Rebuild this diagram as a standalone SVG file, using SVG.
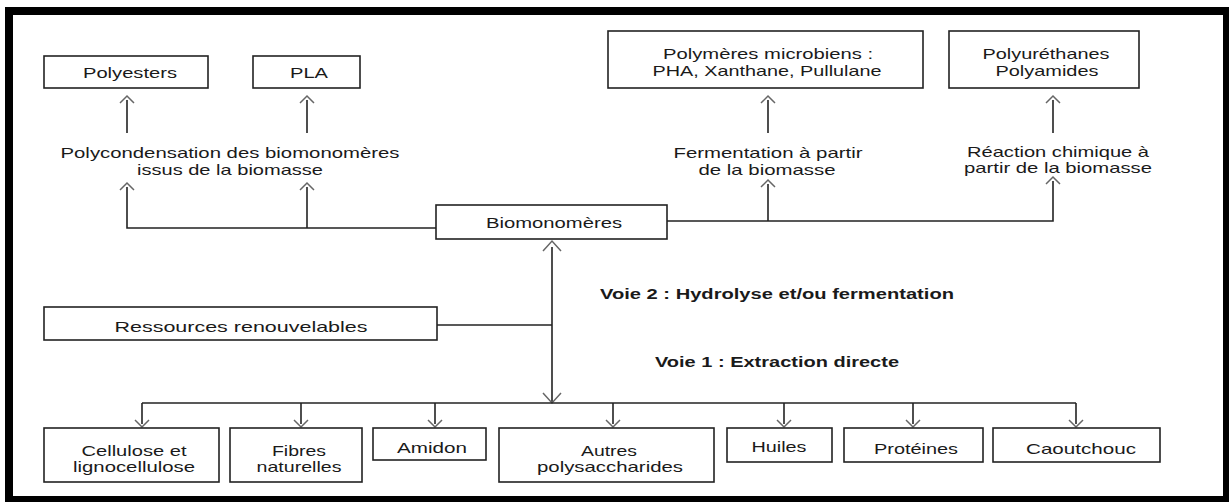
<svg xmlns="http://www.w3.org/2000/svg" width="1229" height="502" viewBox="0 0 1229 502">
<style>
.box{fill:#fff;stroke:#222;stroke-width:1.6}
.t{font-family:"Liberation Sans",Arial,Helvetica,sans-serif;font-size:14.5px;fill:#1a1a1a;text-anchor:middle}
.b{font-family:"Liberation Sans",Arial,Helvetica,sans-serif;font-size:14.5px;font-weight:bold;fill:#1a1a1a}
.ln{fill:none;stroke:#222;stroke-width:1.6}
.ah{fill:none;stroke:#666;stroke-width:1.5}
</style>
<rect x="0" y="0" width="1229" height="502" fill="#fff"/>
<rect x="9" y="11" width="1218" height="489" fill="none" stroke="#000" stroke-width="8"/>

<g id="connectors">
  <polyline class="ln" points="436,228 127,228 127,187"/>
  <line class="ln" x1="307" y1="228" x2="307" y2="187"/>
  <polyline class="ah" points="120,190 127,183 134,190"/>
  <polyline class="ah" points="300,190 307,183 314,190"/>
  <line class="ln" x1="127" y1="133" x2="127" y2="100"/>
  <line class="ln" x1="307" y1="133" x2="307" y2="100"/>
  <polyline class="ah" points="120,103 127,96 134,103"/>
  <polyline class="ah" points="300,103 307,96 314,103"/>
  <polyline class="ln" points="667,221 1053,221 1053,181"/>
  <line class="ln" x1="768" y1="221" x2="768" y2="184"/>
  <polyline class="ah" points="761,187 768,180 775,187"/>
  <polyline class="ah" points="1046,184 1053,177 1060,184"/>
  <line class="ln" x1="768" y1="133" x2="768" y2="100"/>
  <line class="ln" x1="1053" y1="133" x2="1053" y2="100"/>
  <polyline class="ah" points="761,103 768,96 775,103"/>
  <polyline class="ah" points="1046,103 1053,96 1060,103"/>
  <line class="ln" x1="437" y1="325" x2="552" y2="325"/>
  <line class="ln" x1="552" y1="247" x2="552" y2="403"/>
  <polyline class="ah" points="543,251 552,241 561,251"/>
  <polyline class="ah" points="543,393 552,403 561,393"/>
  <line class="ln" x1="142" y1="403" x2="1076" y2="403"/>
  <line class="ln" x1="142" y1="403" x2="142" y2="424"/>
  <line class="ln" x1="301" y1="403" x2="301" y2="424"/>
  <line class="ln" x1="435" y1="403" x2="435" y2="424"/>
  <line class="ln" x1="613" y1="403" x2="613" y2="424"/>
  <line class="ln" x1="784" y1="403" x2="784" y2="424"/>
  <line class="ln" x1="913" y1="403" x2="913" y2="424"/>
  <line class="ln" x1="1076" y1="403" x2="1076" y2="424"/>
  <polyline class="ah" points="135,420 142,427 149,420"/>
  <polyline class="ah" points="294,420 301,427 308,420"/>
  <polyline class="ah" points="428,420 435,427 442,420"/>
  <polyline class="ah" points="606,420 613,427 620,420"/>
  <polyline class="ah" points="777,420 784,427 791,420"/>
  <polyline class="ah" points="906,420 913,427 920,420"/>
  <polyline class="ah" points="1069,420 1076,427 1083,420"/>
</g>

<g id="labels">
  <text class="t" x="230" y="158" textLength="339" lengthAdjust="spacingAndGlyphs">Polycondensation des biomonomères</text>
  <text class="t" x="230" y="175" textLength="186" lengthAdjust="spacingAndGlyphs">issus de la biomasse</text>
  <text class="t" x="768" y="158" textLength="189" lengthAdjust="spacingAndGlyphs">Fermentation à partir</text>
  <text class="t" x="767" y="175" textLength="137" lengthAdjust="spacingAndGlyphs">de la biomasse</text>
  <text class="t" x="1058" y="157" textLength="182" lengthAdjust="spacingAndGlyphs">Réaction chimique à</text>
  <text class="t" x="1058" y="173" textLength="188" lengthAdjust="spacingAndGlyphs">partir de la biomasse</text>
  <text class="b" x="600" y="299" textLength="354" lengthAdjust="spacingAndGlyphs">Voie 2 : Hydrolyse et/ou fermentation</text>
  <text class="b" x="655" y="367" textLength="244" lengthAdjust="spacingAndGlyphs">Voie 1 : Extraction directe</text>
</g>

<g id="polyesters"><rect class="box" x="44" y="56" width="164" height="32"/><text class="t" x="130" y="78" textLength="94" lengthAdjust="spacingAndGlyphs">Polyesters</text></g>
<g id="pla"><rect class="box" x="253" y="56" width="107" height="32"/><text class="t" x="309" y="78" textLength="38" lengthAdjust="spacingAndGlyphs">PLA</text></g>
<g id="polymeres-microbiens"><rect class="box" x="608" y="31" width="315" height="57"/><text class="t" x="768" y="59" textLength="210" lengthAdjust="spacingAndGlyphs">Polymères microbiens :</text><text class="t" x="767" y="76" textLength="229" lengthAdjust="spacingAndGlyphs">PHA, Xanthane, Pullulane</text></g>
<g id="polyurethanes"><rect class="box" x="949" y="31" width="190" height="57"/><text class="t" x="1046" y="59" textLength="127" lengthAdjust="spacingAndGlyphs">Polyuréthanes</text><text class="t" x="1047" y="76" textLength="103" lengthAdjust="spacingAndGlyphs">Polyamides</text></g>
<g id="biomonomeres"><rect class="box" x="436" y="205" width="231" height="34"/><text class="t" x="554" y="228" textLength="136" lengthAdjust="spacingAndGlyphs">Biomonomères</text></g>
<g id="ressources"><rect class="box" x="44" y="307" width="393" height="33"/><text class="t" x="241" y="332" textLength="253" lengthAdjust="spacingAndGlyphs">Ressources renouvelables</text></g>
<g id="cellulose"><rect class="box" x="44" y="428" width="175" height="54"/><text class="t" x="134" y="456" textLength="105" lengthAdjust="spacingAndGlyphs">Cellulose et</text><text class="t" x="134" y="472" textLength="122" lengthAdjust="spacingAndGlyphs">lignocellulose</text></g>
<g id="fibres"><rect class="box" x="230" y="428" width="132" height="54"/><text class="t" x="299" y="456" textLength="54" lengthAdjust="spacingAndGlyphs">Fibres</text><text class="t" x="299" y="472" textLength="85" lengthAdjust="spacingAndGlyphs">naturelles</text></g>
<g id="amidon"><rect class="box" x="373" y="428" width="113" height="32"/><text class="t" x="432" y="453" textLength="70" lengthAdjust="spacingAndGlyphs">Amidon</text></g>
<g id="autres"><rect class="box" x="499" y="428" width="215" height="54"/><text class="t" x="609" y="456" textLength="56" lengthAdjust="spacingAndGlyphs">Autres</text><text class="t" x="610" y="472" textLength="146" lengthAdjust="spacingAndGlyphs">polysaccharides</text></g>
<g id="huiles"><rect class="box" x="727" y="428" width="105" height="34"/><text class="t" x="779" y="452" textLength="55" lengthAdjust="spacingAndGlyphs">Huiles</text></g>
<g id="proteines"><rect class="box" x="844" y="428" width="139" height="34"/><text class="t" x="916" y="454" textLength="84" lengthAdjust="spacingAndGlyphs">Protéines</text></g>
<g id="caoutchouc"><rect class="box" x="993" y="428" width="167" height="34"/><text class="t" x="1081" y="454" textLength="110" lengthAdjust="spacingAndGlyphs">Caoutchouc</text></g>
</svg>
